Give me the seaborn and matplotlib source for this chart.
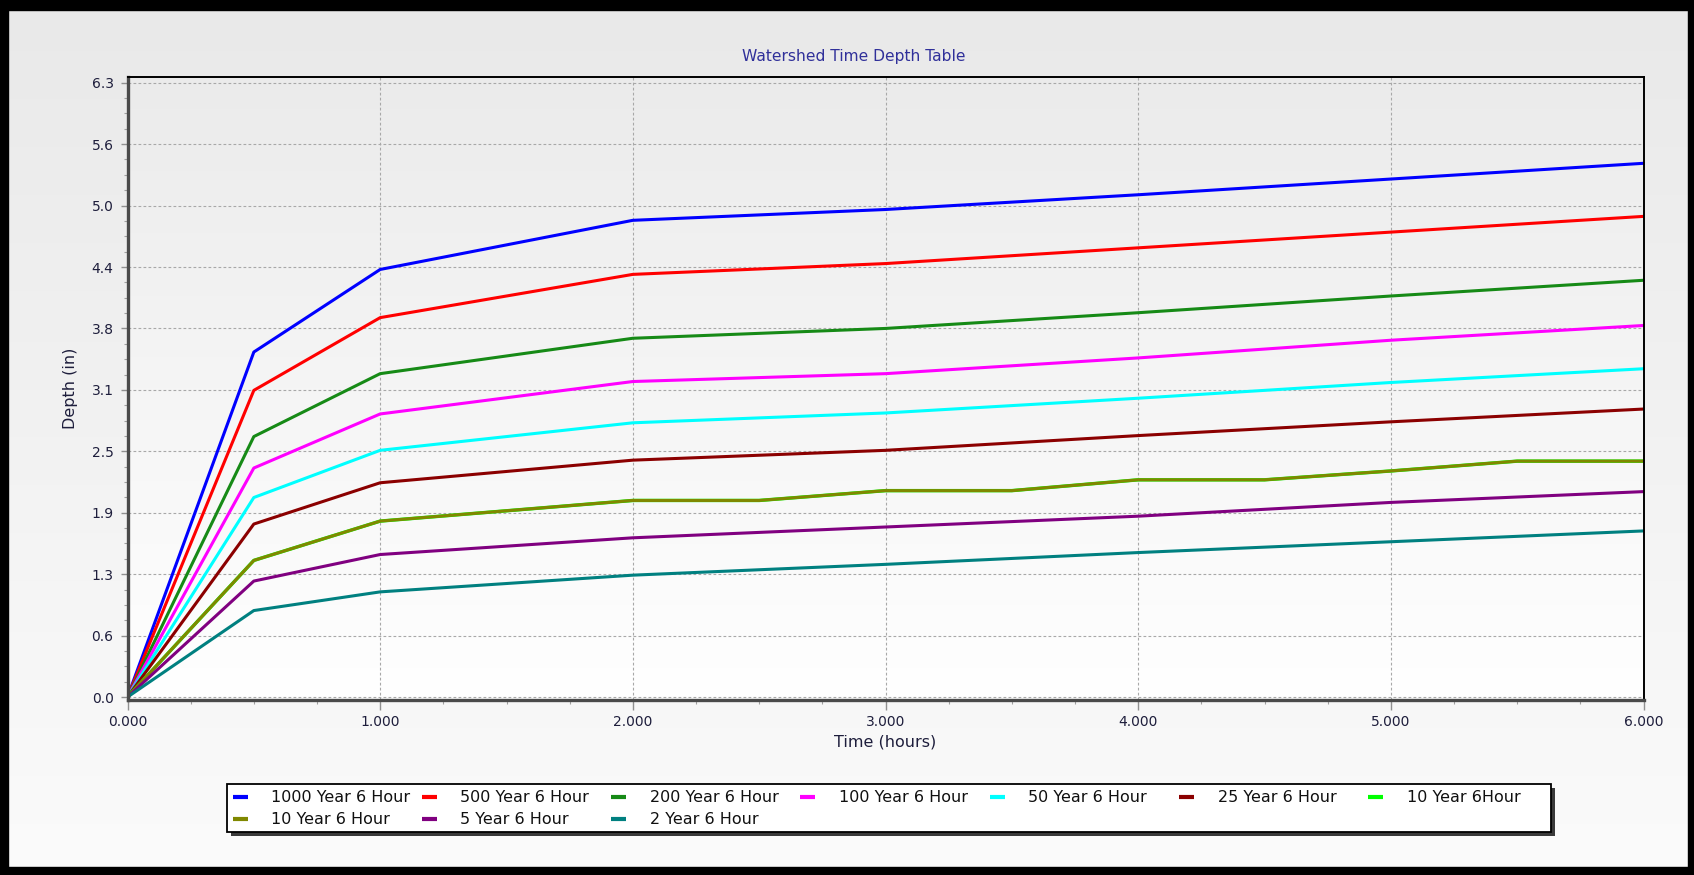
import numpy as np
import pandas as pd
import matplotlib
matplotlib.use("Agg")
import matplotlib.pyplot as plt
import seaborn as sns
from matplotlib.lines import Line2D
from matplotlib.patches import Rectangle
from matplotlib.ticker import FixedLocator, MultipleLocator, NullFormatter

# ---------------- data ----------------
series_names = ["1000 Year 6 Hour", "500 Year 6 Hour", "200 Year 6 Hour",
                "100 Year 6 Hour", "50 Year 6 Hour", "25 Year 6 Hour",
                "10 Year 6Hour", "10 Year 6 Hour", "5 Year 6 Hour", "2 Year 6 Hour"]
series_colors = ["#0000ff", "#ff0000", "#168a16", "#ff00ff", "#00ffff",
                 "#8b0000", "#00ff00", "#808800", "#800080", "#008080"]

time_main = [0, 0.5, 1, 2, 3, 4, 5, 6]
time_10yr = [0, 0.5, 1, 2, 2.5, 3, 3.5, 4, 4.5, 5, 5.5, 6]

depth_1000 = [0, 3.51, 4.35, 4.85, 4.96, 5.11, 5.27, 5.43]
depth_500 = [0, 3.12, 3.86, 4.30, 4.41, 4.57, 4.73, 4.89]
depth_200 = [0, 2.65, 3.29, 3.65, 3.75, 3.91, 4.08, 4.24]
depth_100 = [0, 2.33, 2.88, 3.21, 3.29, 3.45, 3.63, 3.78]
depth_50 = [0, 2.03, 2.51, 2.79, 2.89, 3.04, 3.20, 3.34]
depth_25 = [0, 1.76, 2.18, 2.41, 2.51, 2.66, 2.80, 2.93]
depth_10_alt = [0, 1.39, 1.79, 2.00, 2.00, 2.10, 2.10, 2.21, 2.21, 2.30, 2.40, 2.40]
depth_10 = [0, 1.39, 1.79, 2.00, 2.00, 2.10, 2.10, 2.21, 2.21, 2.30, 2.40, 2.40]
depth_5 = [0, 1.18, 1.45, 1.62, 1.73, 1.84, 1.98, 2.09]
depth_2 = [0, 0.88, 1.07, 1.24, 1.35, 1.47, 1.58, 1.69]

series_depths = [depth_1000, depth_500, depth_200, depth_100, depth_50, depth_25,
                 depth_10_alt, depth_10, depth_5, depth_2]
series_times = [time_main] * 6 + [time_10yr, time_10yr] + [time_main] * 2

xtick_values = [0, 1, 2, 3, 4, 5, 6]
xtick_labels = ["0.000", "1.000", "2.000", "3.000", "4.000", "5.000", "6.000"]
ytick_values = [0, 0.625, 1.25, 1.875, 2.5, 3.125, 3.75, 4.375, 5.0, 5.625, 6.25]
ytick_labels = ["0.0", "0.6", "1.3", "1.9", "2.5", "3.1", "3.8", "4.4", "5.0", "5.6", "6.3"]

rows = []
for name, ts, ds in zip(series_names, series_times, series_depths):
    for t, d in zip(ts, ds):
        rows.append({"Time": t, "Depth": d, "Series": name})
df = pd.DataFrame(rows)

# ---------------- figure ----------------
W, H = 1694, 875
fig = plt.figure(figsize=(W / 100, H / 100), dpi=100)
plt.rcParams['font.family'] = ['DejaVu Sans']

# figure gradient background
bg = fig.add_axes([0, 0, 1, 1])
g = np.linspace(233, 251, 256)[:, None] / 255.0
bg.imshow(np.dstack([g, g, g]), aspect='auto', extent=[0, 1, 0, 1], origin='upper')
bg.set_axis_off()
bg.set_zorder(-5)

ax_l, ax_r = 127.5 / W, 1643.5 / W
ax_top, ax_bot = 77 / H, 700 / H
ax = fig.add_axes([ax_l, 1 - ax_bot, ax_r - ax_l, ax_bot - ax_top])
ax.set_zorder(1)

ymin, ymax = -0.03, 6.308
g2 = np.linspace(235, 255, 256)[:, None] / 255.0
ax.imshow(np.dstack([g2, g2, g2]), aspect='auto', extent=[0, 6, ymin, ymax],
          origin='upper', zorder=0)

palette = dict(zip(series_names, series_colors))
sns.lineplot(data=df, x="Time", y="Depth", hue="Series", hue_order=series_names,
             palette=palette, linewidth=2.2, legend=False, ax=ax, sort=True,
             estimator=None, zorder=3)
# lime series sits under the olive one; slightly wider so its edges show faintly
for line in ax.get_lines():
    rgb = tuple(np.round(np.array(matplotlib.colors.to_rgb(line.get_color())), 2))
    if rgb == (0.0, 1.0, 0.0):
        line.set_linewidth(2.45)

ax.set_xlim(0, 6)
ax.set_ylim(ymin, ymax)
ax.set_facecolor("none")

ax.xaxis.set_major_locator(FixedLocator(xtick_values))
ax.set_xticklabels(xtick_labels)
ax.xaxis.set_minor_locator(MultipleLocator(0.25))
ax.yaxis.set_major_locator(FixedLocator(ytick_values))
ax.set_yticklabels(ytick_labels)
ax.yaxis.set_minor_locator(MultipleLocator(0.15625))
ax.yaxis.set_minor_formatter(NullFormatter())

lab_color = "#1e1e3c"
ax.tick_params(axis='both', which='major', direction='out', labelsize=10,
               labelcolor=lab_color, color='#909090', width=1.0)
ax.tick_params(axis='x', which='major', length=7, pad=4)
ax.tick_params(axis='y', which='major', length=5, pad=5)
ax.tick_params(axis='both', which='minor', direction='out', length=3,
               color='#a0a0a0', width=0.8)

ax.grid(True, which='major', color='#a8a8a8', linestyle=(0, (2.5, 2)), linewidth=0.8)
ax.set_axisbelow(True)

for s in ['left', 'bottom']:
    ax.spines[s].set_color('#4a4a4a')
    ax.spines[s].set_linewidth(2.4)
for s in ['top', 'right']:
    ax.spines[s].set_color('#000000')
    ax.spines[s].set_linewidth(1.4)
for sp in ax.spines.values():
    sp.set_zorder(5)

ax.set_xlabel("Time (hours)", fontsize=11.5, color=lab_color)
ax.set_ylabel("Depth (in)", fontsize=11.5, color=lab_color)
ax.xaxis.label.set_va('center')
ax.xaxis.set_label_coords(0.5, -(742 - 700) / 623)
ax.yaxis.label.set_va('center')
ax.yaxis.set_label_coords((70 - 127.5) / 1516, 0.5)

fig.text(854 / W, 1 - 57 / H, "Watershed Time Depth Table", ha='center', va='center',
         fontsize=11.2, color='#30309a')

# ---------------- legend (fixed-pitch grid, 7 columns) ----------------
box_x0, box_x1, box_y0, box_y1 = 227, 1551, 784, 832   # pixel coords (top-left origin)
fig.add_artist(Rectangle(((box_x0 + 4) / W, 1 - (box_y1 + 4) / H),
                         (box_x1 - box_x0) / W, (box_y1 - box_y0) / H,
                         transform=fig.transFigure, facecolor='#3a3a3a',
                         edgecolor='none', zorder=10))
fig.add_artist(Rectangle((box_x0 / W, 1 - box_y1 / H),
                         (box_x1 - box_x0) / W, (box_y1 - box_y0) / H,
                         transform=fig.transFigure, facecolor='white',
                         edgecolor='black', linewidth=1.3, zorder=11))
col_pitch, first_handle, row_y = 189.3, 240, [797, 819]
for i, (name, col) in enumerate(zip(series_names, series_colors)):
    r, c = divmod(i, 7)
    hx = first_handle + c * col_pitch
    yy = 1 - row_y[r] / H
    fig.add_artist(Line2D([(hx - 7.5) / W, (hx + 7.5) / W], [yy, yy],
                          transform=fig.transFigure, color=col, linewidth=3.0,
                          solid_capstyle='butt', zorder=12))
    fig.text((hx + 31) / W, yy, name, ha='left', va='center', fontsize=11.5,
             color='#101010', zorder=12)

# black outer border
for (x0, y0, w, h) in [(0, 0, 8 / W, 1), (0, 1 - 10 / H, 1, 10 / H),
                       (1 - 6 / W, 0, 6 / W, 1), (0, 0, 1, 8 / H)]:
    fig.add_artist(Rectangle((x0, y0), w, h, transform=fig.transFigure,
                             color='black', zorder=100))

fig.savefig("out.png", dpi=100)
